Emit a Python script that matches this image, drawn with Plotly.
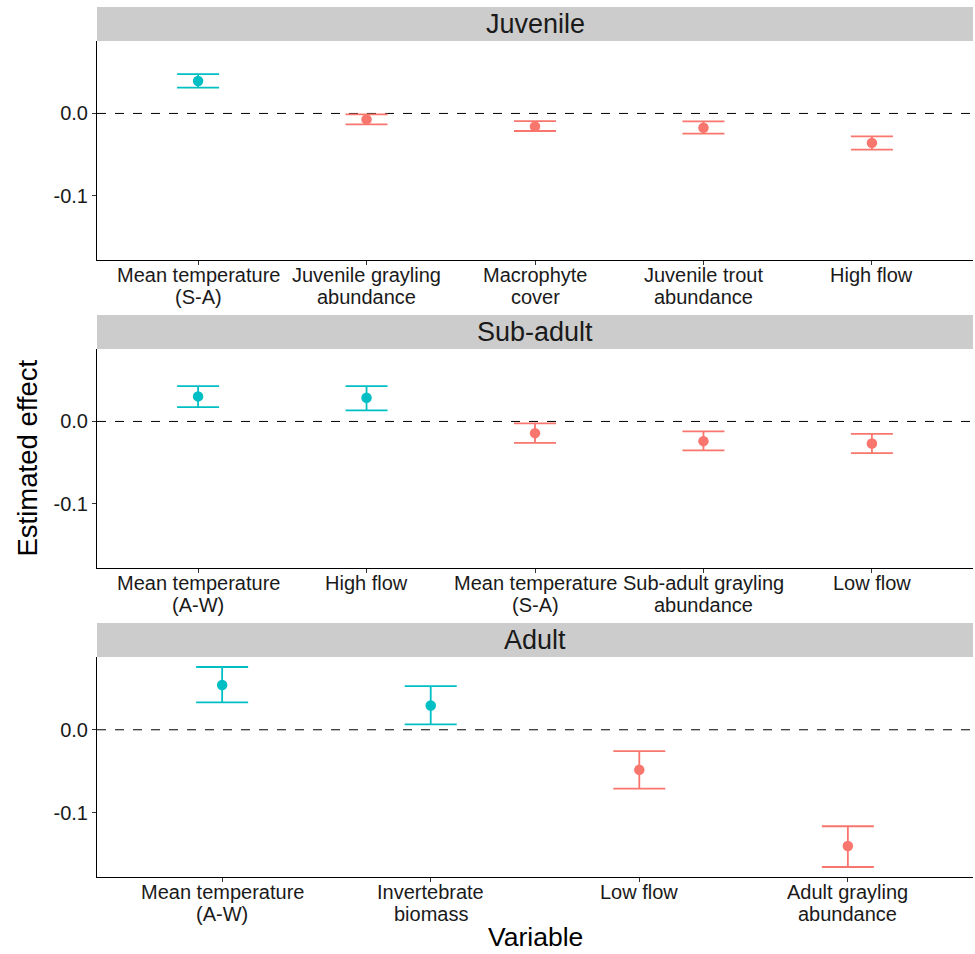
import plotly.graph_objects as go

# ---------------- data ----------------
panel_titles = ["Juvenile", "Sub-adult", "Adult"]

juv_vars = ["Mean temperature<br>(S-A)", "Juvenile grayling<br>abundance", "Macrophyte<br>cover",
            "Juvenile trout<br>abundance", "High flow"]
juv_est = [0.0394, -0.0072, -0.0157, -0.0173, -0.0357]
juv_lo = [0.0313, -0.0133, -0.0213, -0.0245, -0.0438]
juv_hi = [0.0478, -0.0012, -0.0093, -0.0096, -0.0277]

sub_vars = ["Mean temperature<br>(A-W)", "High flow", "Mean temperature<br>(S-A)",
            "Sub-adult grayling<br>abundance", "Low flow"]
sub_est = [0.0304, 0.0287, -0.0142, -0.0239, -0.0267]
sub_lo = [0.0174, 0.0134, -0.0259, -0.0352, -0.0385]
sub_hi = [0.0429, 0.0429, -0.0024, -0.0121, -0.0150]

ad_vars = ["Mean temperature<br>(A-W)", "Invertebrate<br>biomass", "Low flow",
           "Adult grayling<br>abundance"]
ad_est = [0.0540, 0.0294, -0.0484, -0.1403]
ad_lo = [0.0331, 0.0065, -0.0710, -0.1657]
ad_hi = [0.0758, 0.0528, -0.0258, -0.1165]

y_tickvals = [-0.1, 0.0]
y_ticktext = ["-0.1", "0.0"]
y_range = [-0.1778, 0.0879]

# ---------------- style ----------------
POS = "#00BFC4"
NEG = "#F8766D"
FONT = "Liberation Sans, Arial, sans-serif"
TXT = "#1a1a1a"
W, H = 975, 954
ML, MR = 97, 2

panels = [
    (juv_vars, juv_est, juv_lo, juv_hi),
    (sub_vars, sub_est, sub_lo, sub_hi),
    (ad_vars, ad_est, ad_lo, ad_hi),
]
# pixel boxes (top, bottom) of plot areas and strips
plot_px = [(41, 260), (349, 568), (657, 877)]
strip_px = [(7, 41), (315, 349), (623, 657)]
LINE_OFFS = [14.5, 36.5]   # px below the x axis for each tick-label line

fig = go.Figure()
layout = dict(
    width=W, height=H, autosize=False,
    margin=dict(l=ML, r=MR, t=0, b=0),
    plot_bgcolor="white", paper_bgcolor="white",
    showlegend=False,
    font=dict(family=FONT, color="black"),
)
shapes = []
annotations = []

for i, (vars_, est, lo, hi) in enumerate(panels):
    ax = "" if i == 0 else str(i + 1)
    xname, yname = "x" + ax, "y" + ax
    n = len(vars_)
    cap = 21 if n == 5 else 26
    for v, e, l, h in zip(vars_, est, lo, hi):
        c = POS if e > 0 else NEG
        fig.add_trace(go.Scatter(
            x=[v], y=[e], mode="markers",
            marker=dict(color=c, size=10.5),
            error_y=dict(type="data", symmetric=False, array=[h - e], arrayminus=[e - l],
                         color=c, thickness=1.8, width=cap),
            xaxis=xname, yaxis=yname, hoverinfo="skip",
        ))
    top, bot = plot_px[i]
    dom = [1 - bot / H, 1 - top / H]
    layout["xaxis" + ax] = dict(
        domain=[0, 1], anchor=yname, type="category",
        categoryorder="array", categoryarray=vars_,
        range=[-0.6, n - 0.4],
        showline=True, linecolor="black", linewidth=1.1,
        ticks="outside", ticklen=4, tickcolor="#333", tickwidth=1.1,
        showgrid=False, zeroline=False, showticklabels=False,
        fixedrange=True,
    )
    layout["yaxis" + ax] = dict(
        domain=dom, anchor=xname, range=y_range,
        tickvals=y_tickvals, ticktext=y_ticktext,
        showline=True, linecolor="black", linewidth=1.1,
        ticks="outside", ticklen=4, tickcolor="#333", tickwidth=1.1,
        showgrid=False, zeroline=False,
        tickfont=dict(size=20, family=FONT, color=TXT),
        fixedrange=True,
    )
    # category labels, one text line each for tight line spacing
    for v in vars_:
        for k, part in enumerate(v.split("<br>")):
            annotations.append(dict(
                text=part, xref=xname, yref="paper", x=v,
                y=1 - (bot + LINE_OFFS[k]) / H, showarrow=False,
                xanchor="center", yanchor="middle",
                font=dict(size=20, family=FONT, color=TXT)))
    # zero reference line
    shapes.append(dict(type="line", xref=xname + " domain", yref=yname,
                       x0=0, x1=1, y0=0, y1=0,
                       line=dict(color="black", width=1, dash="dash"), layer="below"))
    # strip
    s0, s1 = strip_px[i]
    shapes.append(dict(type="rect", xref="paper", yref="paper",
                       x0=0, x1=1, y0=1 - s1 / H, y1=1 - s0 / H,
                       fillcolor="#CCCCCC", line=dict(width=0)))
    annotations.append(dict(text=panel_titles[i], xref="paper", yref="paper",
                            x=0.5, y=1 - (s0 + s1) / 2 / H, showarrow=False,
                            xanchor="center", yanchor="middle",
                            font=dict(size=27, family=FONT, color=TXT)))

annotations.append(dict(text="Estimated effect", xref="paper", yref="paper",
                        x=(27 - ML) / (W - ML - MR), y=1 - 458.5 / H, showarrow=False,
                        textangle=-90, xanchor="center", yanchor="middle",
                        font=dict(size=27.5, family=FONT, color="black")))
annotations.append(dict(text="Variable", xref="paper", yref="paper",
                        x=0.5, y=0, showarrow=False,
                        xanchor="center", yanchor="bottom",
                        font=dict(size=26.5, family=FONT, color="black")))

layout["shapes"] = shapes
layout["annotations"] = annotations
fig.update_layout(**layout)
fig.write_html("out.html")
